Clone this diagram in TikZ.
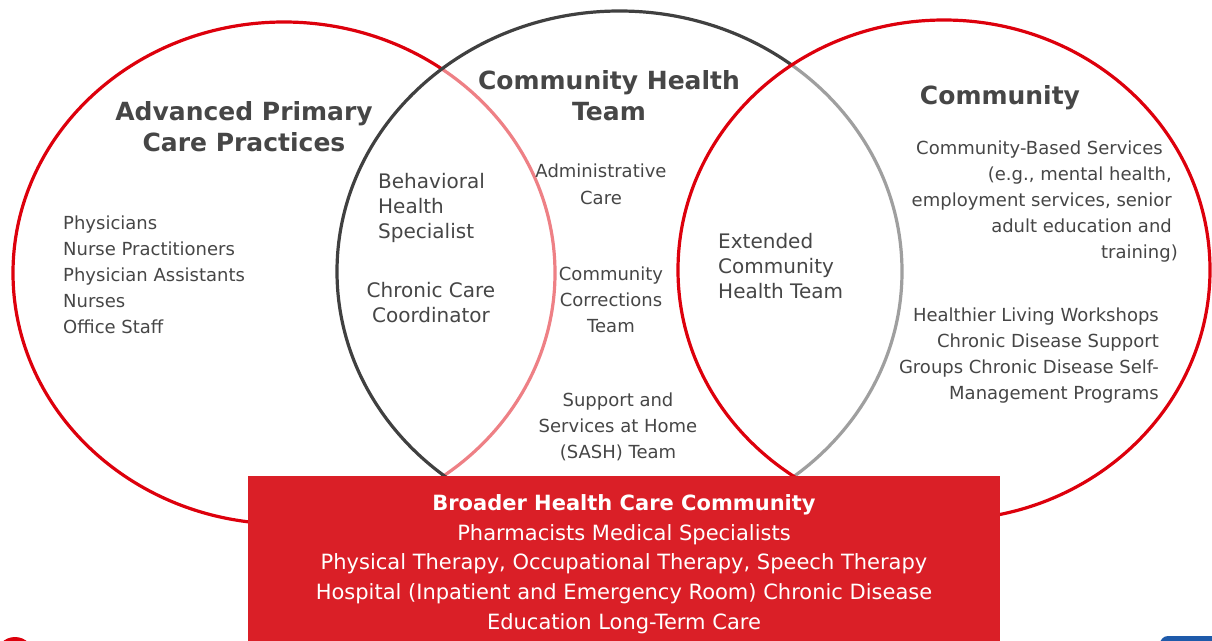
\documentclass[tikz,border=0pt]{standalone}
\usepackage{fontspec}
\setmainfont{DejaVu Sans}
\usepackage{tikz}
\definecolor{ringred}{RGB}{221,0,12}
\definecolor{ringgray}{RGB}{64,64,64}
\definecolor{boxred}{RGB}{218,31,39}
\definecolor{labelgray}{RGB}{70,70,70}
\definecolor{cornerblue}{RGB}{30,90,170}
\tikzset{ring/.style = {line width = 3.2pt}}
\tikzset{heading/.style = {text = labelgray, font = \bfseries\fontsize{25}{31}\selectfont,
                           align = center, inner sep = 0}}
\tikzset{entry/.style = {text = labelgray, font = \fontsize{18}{26}\selectfont, inner sep = 0}}
\tikzset{midlabel/.style = {text = labelgray, font = \fontsize{20}{25}\selectfont, inner sep = 0}}
\tikzset{boxtext/.style = {text = white, font = \fontsize{21}{29.75}\selectfont,
                           align = center, inner sep = 0}}

\begin{document}
\begin{tikzpicture}[x = 1pt, y = -1pt]
    \useasboundingbox (0, 0) rectangle (1212, 640);

    % three rings, later ones wash out the ones below
    \draw [ring, ringred] (284, 273) ellipse [x radius = 271pt, y radius = 251pt];
    \draw [ring, ringgray, fill = white, fill opacity = 0.5] (619.5, 271.5) ellipse [x radius = 282.5pt, y radius = 260.5pt];
    \draw [ring, ringred, fill = white, fill opacity = 0.5] (944, 270) ellipse [x radius = 266pt, y radius = 250pt];

    \begin{scope}
      \clip (0, 0) rectangle (1212, 640);
      \fill [boxred] (248, 476) rectangle (1000, 660);
      \fill [ringred] (15, 656) circle [radius = 19pt];
      \fill [cornerblue, rounded corners = 8pt] (1160, 636) rectangle (1240, 690);
    \end{scope}

    \node [heading] (apcp) at (244, 126.5) {Advanced Primary\\Care Practices};
    \node [heading] (cht) at (609, 95.5) {Community Health\\Team};
    \node [heading] (comm) at (1000, 98) {Community};

    \node [entry, align = left, anchor = west] (staff) at (63, 275)
      {Physicians\\Nurse Practitioners\\Physician Assistants\\Nurses\\Office Staff};

    \node [midlabel, align = left, anchor = west] (bhs) at (378, 208) {Behavioral\\Health\\Specialist};
    \node [midlabel, align = center] (ccc) at (431, 303) {Chronic Care\\Coordinator};
    \node [midlabel, align = left, anchor = west] (echt) at (718, 266) {Extended\\Community\\Health Team};

    \node [entry, align = center, font = \fontsize{18}{27}\selectfont] (admin) at (601, 184.5) {Administrative\\Care};
    \node [entry, align = center] (cct) at (611, 299.5) {Community\\Corrections\\Team};
    \node [entry, align = center] (sash) at (618, 426.5) {Support and\\Services at Home\\(SASH) Team};

    \node [entry, align = right, anchor = east] (cbs) at (1172, 202)
      {Community-Based Services\hspace*{9pt}\\(e.g., mental health,\\employment services, senior\\adult education and\\training)\hspace*{-6pt}};
    \node [entry, align = right, anchor = east] (hlw) at (1159, 355.5)
      {Healthier Living Workshops\\Chronic Disease Support\\Groups Chronic Disease Self-\\Management Programs};

    \node [boxtext] (bhcc) at (624, 564)
      {\textbf{Broader Health Care Community}\\Pharmacists Medical Specialists\\Physical Therapy, Occupational Therapy, Speech Therapy\\Hospital (Inpatient and Emergency Room) Chronic Disease\\Education Long-Term Care};
\end{tikzpicture}
\end{document}
